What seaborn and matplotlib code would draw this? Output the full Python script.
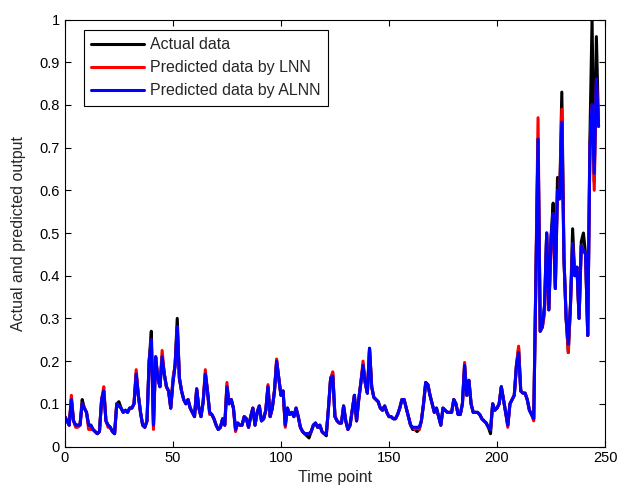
import numpy as np
import pandas as pd
import matplotlib
matplotlib.use("Agg")
import matplotlib.pyplot as plt
import seaborn as sns

sns.set_style('ticks')
plt.rcParams['font.family'] = ['Liberation Sans', 'DejaVu Sans']

# actual series, one value per time point
actual = [
    0.07, 0.06, 0.05, 0.11, 0.06, 0.05, 0.05, 0.05, 0.11, 0.09,
    0.08, 0.05, 0.05, 0.04, 0.035, 0.03, 0.035, 0.11, 0.13, 0.06,
    0.05, 0.045, 0.035, 0.03, 0.10, 0.105, 0.09, 0.08, 0.085, 0.08,
    0.09, 0.09, 0.10, 0.17, 0.12, 0.08, 0.05, 0.045, 0.06, 0.20,
    0.27, 0.05, 0.21, 0.16, 0.14, 0.21, 0.17, 0.14, 0.13, 0.09,
    0.15, 0.19, 0.30, 0.16, 0.13, 0.11, 0.10, 0.11, 0.09, 0.08,
    0.07, 0.135, 0.09, 0.07, 0.105, 0.17, 0.13, 0.08, 0.075, 0.065,
    0.05, 0.04, 0.045, 0.065, 0.05, 0.14, 0.10, 0.11, 0.09, 0.04,
    0.055, 0.05, 0.05, 0.07, 0.065, 0.045, 0.07, 0.09, 0.05, 0.08,
    0.095, 0.06, 0.065, 0.085, 0.14, 0.07, 0.09, 0.13, 0.20, 0.16,
    0.12, 0.13, 0.05, 0.09, 0.075, 0.08, 0.07, 0.09, 0.07, 0.045,
    0.035, 0.03, 0.025, 0.02, 0.035, 0.05, 0.055, 0.045, 0.05, 0.035,
    0.03, 0.025, 0.09, 0.16, 0.17, 0.07, 0.06, 0.055, 0.055, 0.095,
    0.06, 0.04, 0.05, 0.085, 0.12, 0.06, 0.11, 0.15, 0.19, 0.15,
    0.125, 0.23, 0.14, 0.115, 0.11, 0.105, 0.09, 0.085, 0.095, 0.08,
    0.07, 0.07, 0.065, 0.065, 0.075, 0.09, 0.11, 0.11, 0.09, 0.07,
    0.05, 0.04, 0.04, 0.035, 0.04, 0.06, 0.10, 0.15, 0.145, 0.12,
    0.10, 0.08, 0.09, 0.07, 0.05, 0.09, 0.085, 0.08, 0.08, 0.08,
    0.11, 0.10, 0.075, 0.075, 0.10, 0.19, 0.12, 0.155, 0.10, 0.08,
    0.08, 0.08, 0.075, 0.065, 0.06, 0.055, 0.045, 0.03, 0.10, 0.085,
    0.09, 0.10, 0.14, 0.11, 0.08, 0.05, 0.10, 0.11, 0.12, 0.19,
    0.23, 0.13, 0.125, 0.125, 0.11, 0.085, 0.075, 0.065, 0.40, 0.72,
    0.27, 0.28, 0.33, 0.50, 0.32, 0.49, 0.57, 0.37, 0.63, 0.58,
    0.83, 0.44, 0.30, 0.22, 0.33, 0.51, 0.40, 0.42, 0.30, 0.48,
    0.50, 0.45, 0.26, 0.72, 1.00, 0.62, 0.96, 0.75,
]

# LNN prediction (red)
lnn = [
    0.07, 0.06, 0.05, 0.12, 0.06, 0.045, 0.045, 0.05, 0.10, 0.09,
    0.08, 0.04, 0.04, 0.04, 0.035, 0.03, 0.035, 0.11, 0.14, 0.06,
    0.045, 0.045, 0.035, 0.03, 0.10, 0.095, 0.09, 0.08, 0.085, 0.08,
    0.09, 0.09, 0.10, 0.18, 0.12, 0.08, 0.05, 0.045, 0.06, 0.20,
    0.25, 0.04, 0.21, 0.16, 0.14, 0.225, 0.17, 0.14, 0.13, 0.09,
    0.16, 0.19, 0.28, 0.16, 0.13, 0.11, 0.10, 0.11, 0.09, 0.08,
    0.07, 0.135, 0.09, 0.07, 0.105, 0.18, 0.13, 0.075, 0.075, 0.065,
    0.05, 0.04, 0.045, 0.065, 0.05, 0.15, 0.10, 0.11, 0.09, 0.035,
    0.055, 0.05, 0.05, 0.07, 0.065, 0.045, 0.07, 0.09, 0.05, 0.08,
    0.095, 0.06, 0.065, 0.085, 0.145, 0.07, 0.09, 0.13, 0.205, 0.16,
    0.12, 0.13, 0.045, 0.09, 0.075, 0.08, 0.07, 0.09, 0.07, 0.045,
    0.035, 0.03, 0.03, 0.03, 0.035, 0.05, 0.055, 0.045, 0.05, 0.035,
    0.03, 0.03, 0.09, 0.16, 0.175, 0.07, 0.06, 0.055, 0.055, 0.095,
    0.06, 0.04, 0.05, 0.085, 0.12, 0.06, 0.11, 0.15, 0.20, 0.15,
    0.125, 0.23, 0.14, 0.115, 0.11, 0.105, 0.09, 0.085, 0.095, 0.08,
    0.07, 0.07, 0.065, 0.065, 0.075, 0.09, 0.11, 0.11, 0.09, 0.07,
    0.05, 0.045, 0.04, 0.045, 0.04, 0.06, 0.10, 0.15, 0.145, 0.12,
    0.10, 0.08, 0.085, 0.07, 0.05, 0.09, 0.085, 0.08, 0.08, 0.08,
    0.11, 0.10, 0.075, 0.075, 0.10, 0.197, 0.12, 0.155, 0.10, 0.08,
    0.08, 0.08, 0.075, 0.065, 0.06, 0.055, 0.045, 0.04, 0.10, 0.085,
    0.09, 0.10, 0.14, 0.11, 0.08, 0.045, 0.10, 0.11, 0.12, 0.19,
    0.235, 0.13, 0.125, 0.125, 0.11, 0.085, 0.075, 0.06, 0.40, 0.77,
    0.27, 0.28, 0.31, 0.50, 0.32, 0.46, 0.545, 0.37, 0.60, 0.58,
    0.79, 0.44, 0.30, 0.22, 0.33, 0.475, 0.40, 0.42, 0.30, 0.47,
    0.46, 0.45, 0.26, 0.70, 0.80, 0.60, 0.86, 0.75,
]

# ALNN prediction (blue)
alnn = [
    0.07, 0.06, 0.05, 0.11, 0.06, 0.05, 0.05, 0.05, 0.10, 0.09,
    0.08, 0.05, 0.05, 0.04, 0.035, 0.03, 0.035, 0.11, 0.13, 0.06,
    0.05, 0.045, 0.035, 0.03, 0.10, 0.095, 0.09, 0.08, 0.085, 0.08,
    0.09, 0.09, 0.10, 0.17, 0.12, 0.08, 0.05, 0.045, 0.06, 0.20,
    0.25, 0.05, 0.21, 0.16, 0.14, 0.21, 0.17, 0.14, 0.13, 0.09,
    0.15, 0.19, 0.28, 0.16, 0.13, 0.11, 0.10, 0.11, 0.09, 0.08,
    0.07, 0.135, 0.09, 0.07, 0.105, 0.17, 0.13, 0.08, 0.075, 0.065,
    0.05, 0.04, 0.045, 0.065, 0.05, 0.14, 0.10, 0.11, 0.09, 0.04,
    0.055, 0.05, 0.05, 0.07, 0.065, 0.045, 0.07, 0.09, 0.05, 0.08,
    0.095, 0.06, 0.065, 0.085, 0.14, 0.07, 0.09, 0.13, 0.20, 0.16,
    0.12, 0.13, 0.05, 0.09, 0.075, 0.08, 0.07, 0.09, 0.07, 0.045,
    0.035, 0.03, 0.03, 0.03, 0.035, 0.05, 0.055, 0.045, 0.05, 0.035,
    0.03, 0.03, 0.09, 0.16, 0.165, 0.07, 0.06, 0.055, 0.055, 0.095,
    0.06, 0.04, 0.05, 0.085, 0.12, 0.06, 0.11, 0.15, 0.19, 0.15,
    0.125, 0.23, 0.14, 0.115, 0.11, 0.105, 0.09, 0.085, 0.095, 0.08,
    0.07, 0.07, 0.065, 0.065, 0.075, 0.09, 0.11, 0.11, 0.09, 0.07,
    0.05, 0.045, 0.045, 0.045, 0.045, 0.06, 0.10, 0.15, 0.145, 0.12,
    0.10, 0.08, 0.09, 0.07, 0.05, 0.09, 0.085, 0.08, 0.08, 0.08,
    0.11, 0.10, 0.075, 0.075, 0.10, 0.19, 0.12, 0.155, 0.10, 0.08,
    0.08, 0.08, 0.075, 0.065, 0.06, 0.055, 0.045, 0.04, 0.10, 0.085,
    0.09, 0.10, 0.14, 0.11, 0.08, 0.05, 0.10, 0.11, 0.12, 0.19,
    0.22, 0.13, 0.125, 0.125, 0.11, 0.085, 0.075, 0.065, 0.40, 0.72,
    0.27, 0.28, 0.33, 0.50, 0.32, 0.49, 0.545, 0.37, 0.60, 0.58,
    0.76, 0.44, 0.30, 0.24, 0.33, 0.475, 0.40, 0.42, 0.30, 0.47,
    0.46, 0.45, 0.26, 0.70, 0.80, 0.64, 0.86, 0.75,
]

labels = ['Actual data', 'Predicted data by LNN', 'Predicted data by ALNN']
colors = ['black', 'red', 'blue']

t = np.arange(len(actual))
df = pd.concat([
    pd.DataFrame({'t': t, 'value': vals, 'series': name})
    for name, vals in zip(labels, [actual, lnn, alnn])
])

fig = plt.figure(figsize=(6.18, 4.88), dpi=100)
ax = fig.add_axes([0.105, 0.085, 0.874, 0.875])

sns.lineplot(data=df, x='t', y='value', hue='series', hue_order=labels,
             palette=colors, linewidth=2.2, ax=ax, estimator=None)

ax.set_xlim(0, 250)
ax.set_ylim(0, 1)
ax.set_xticks([0, 50, 100, 150, 200, 250])
ax.set_yticks(np.arange(0, 1.01, 0.1))
ax.set_yticklabels(['0', '0.1', '0.2', '0.3', '0.4', '0.5', '0.6', '0.7', '0.8', '0.9', '1'])
ax.tick_params(direction='in', top=True, right=True, length=4, width=0.8,
               labelsize=10.5, colors='black')
for s in ax.spines.values():
    s.set_visible(True)
    s.set_linewidth(0.8)
    s.set_color('black')

# reference has the x label hugging the bottom edge
ax.set_xlabel('Time point', fontsize=11.5, labelpad=3)
ax.set_ylabel('Actual and predicted output', fontsize=11.5, labelpad=10)

leg = ax.legend(loc='upper left', bbox_to_anchor=(0.035, 0.975), fontsize=11.5,
                handlelength=3.3, fancybox=False, edgecolor='black', framealpha=1,
                borderaxespad=0, borderpad=0.45, labelspacing=0.5, handletextpad=0.4)
leg.get_frame().set_linewidth(0.8)

fig.savefig('out.png', dpi=100)
